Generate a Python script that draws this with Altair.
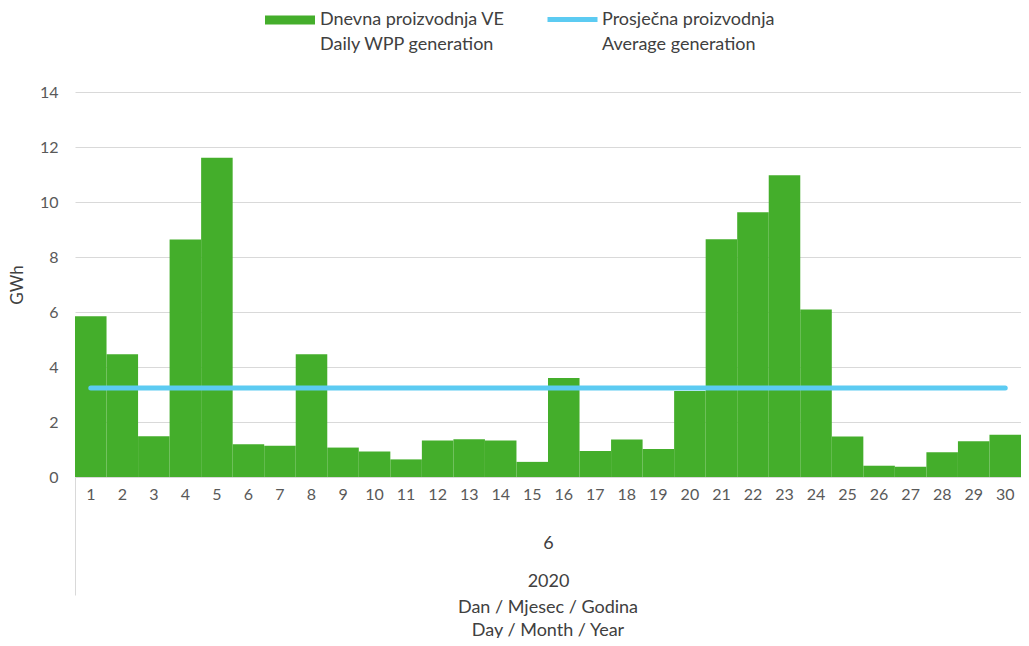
import altair as alt
import pandas as pd

# ---- data ----
days = list(range(1, 31))
generation = [5.85, 4.46, 1.48, 8.64, 11.61, 1.19, 1.14, 4.46, 1.07, 0.93,
              0.64, 1.33, 1.37, 1.33, 0.55, 3.60, 0.95, 1.36, 1.02, 3.13,
              8.65, 9.63, 10.97, 6.09, 1.47, 0.41, 0.37, 0.90, 1.30, 1.54]
average = 3.24
bar_series = "Dnevna proizvodnja VE|Daily WPP generation"
line_series = "Prosječna proizvodnja|Average generation"
y_ticks = [0, 2, 4, 6, 8, 10, 12, 14]
month_label = "6"
year_label = "2020"
x_title_lines = ["Dan / Mjesec / Godina", "Day / Month / Year"]
y_title = "GWh"

GREEN = "#44AE2B"
BLUE = "#5CCBF2"
TEXT = "#595959"
LEG = "#404040"
GRID = "#D9D9D9"
FONT = "Lato"

df = pd.DataFrame({"day": days, "gen": generation})
df["avg"] = average
df["bs"] = bar_series
df["ls"] = line_series

x_enc = alt.X(
    "day:O",
    scale=alt.Scale(paddingInner=0, paddingOuter=0),
    axis=alt.Axis(
        title=[month_label, year_label],
        titleLineHeight=38,
        titleFont=FONT,
        titleFontSize=18,
        titleFontWeight="normal",
        titleColor=LEG,
        titleBaseline="alphabetic",
        titleY=71,
        labelAngle=0,
        labelFont=FONT,
        labelFontSize=16,
        labelColor=TEXT,
        labelPadding=-109,
        bandPosition=0,
        tickSize=118,
        tickWidth=1,
        tickColor={"condition": {"test": "datum.value == 1", "value": GRID}, "value": "transparent"},
        domainColor=GRID,
        domainWidth=1,
        grid=False,
    ),
)

y_scale = alt.Scale(domain=[0, 14], nice=False)

bars = alt.Chart(df).mark_bar().encode(
    x=x_enc,
    y=alt.Y(
        "gen:Q",
        scale=y_scale,
        axis=alt.Axis(
            title=y_title,
            values=y_ticks,
            titleFont=FONT,
            titleFontSize=17,
            titleFontWeight="normal",
            titleColor=LEG,
            titlePadding=13,
            labelFont=FONT,
            labelFontSize=16,
            labelColor=TEXT,
            labelPadding=17,
            domain=False,
            ticks=False,
            grid=True,
            gridColor=GRID,
            gridWidth=1,
        ),
    ),
    fill=alt.Fill(
        "bs:N",
        scale=alt.Scale(domain=[bar_series], range=[GREEN]),
        legend=alt.Legend(
            title=None,
            orient="none",
            legendX=190,
            legendY=-97,
            padding=0,
            symbolType="M-1,-0.18H1V0.18H-1Z",
            symbolSize=2500,
            symbolStrokeWidth=0,
            labelExpr="split(datum.label, '|')",
            labelFont=FONT,
            labelFontSize=18,
            labelColor=LEG,
            labelOffset=5,
            labelLimit=400,
        ),
    ),
)

line = alt.Chart(df).mark_line(strokeWidth=5, strokeCap="round").encode(
    x=alt.X("day:O"),
    y=alt.Y("avg:Q", scale=y_scale),
    stroke=alt.Stroke(
        "ls:N",
        scale=alt.Scale(domain=[line_series], range=[BLUE]),
        legend=alt.Legend(
            title=None,
            orient="none",
            legendX=470,
            legendY=-100,
            padding=0,
            symbolType="M-1,0H1",
            symbolSize=2500,
            symbolStrokeWidth=5,
            labelExpr="split(datum.label, '|')",
            labelFont=FONT,
            labelFontSize=18,
            labelColor=LEG,
            labelOffset=2,
            labelLimit=400,
        ),
    ),
)

chart = (
    alt.layer(bars, line)
    .properties(
        width=946,
        height=385,
        autosize=alt.AutoSizeParams(type="none"),
        padding={"left": 67, "top": 84, "right": 0, "bottom": 161},
        title=alt.TitleParams(
            text=x_title_lines,
            orient="bottom",
            anchor="middle",
            baseline="alphabetic",
            lineHeight=23,
            offset=17,
            font=FONT,
            fontSize=18,
            fontWeight="normal",
            color=LEG,
        ),
    )
    .configure(style={"guide-label": {"lineHeight": 25}})
    .configure_view(stroke=None)
)

chart.save("out.html", embed_options={"renderer": "svg", "actions": False})
